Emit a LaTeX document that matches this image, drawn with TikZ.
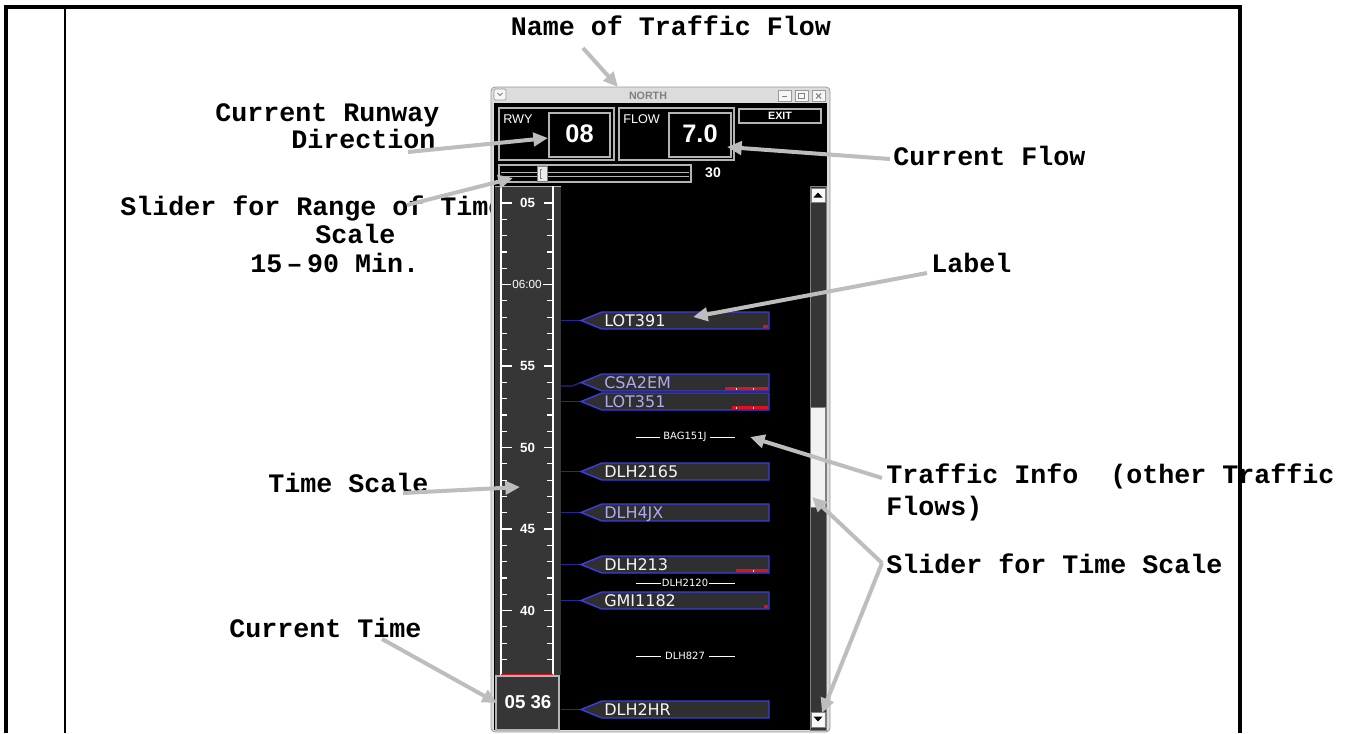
\documentclass[tikz,border=0pt]{standalone}
\usepackage{fontspec}
\usetikzlibrary{arrows.meta}
\newfontfamily\annofont{Liberation Mono}
\newfontfamily\uifont{Liberation Sans}
\newfontfamily\tagfont{DejaVu Sans}

\definecolor{callout}{HTML}{BDBDBD}
\definecolor{panel}{HTML}{363636}
\definecolor{tagfill}{HTML}{2F2F2F}
\definecolor{tagedge}{HTML}{3C3CD8}
\definecolor{taglink}{HTML}{26268E}
\definecolor{lavender}{HTML}{ABABEE}
\definecolor{alert}{HTML}{E0101E}
\definecolor{chrome}{HTML}{DCDCDC}
\definecolor{chromeedge}{HTML}{9A9A9A}
\definecolor{framegray}{HTML}{B4B4B4}

\tikzset{
  anno/.style={font=\annofont\bfseries\fontsize{20}{24}\selectfont, inner sep=0pt, text=black},
  callarrow/.style={draw=callout, line width=3pt, -{Triangle[length=11pt,width=10pt]}},
  uibox/.style={draw=framegray, line width=0.8pt},
  tagtext/.style={font=\tagfont\fontsize{12}{12}\selectfont, inner sep=0pt, anchor=base west},
  tagshape/.style={draw=tagedge, fill=tagfill, line width=1.1pt},
  tagline/.style={draw=taglink, line width=0.9pt},
  scalenum/.style={font=\uifont\bfseries\fontsize{10}{10}\selectfont, text=white, inner sep=0pt},
  tick/.style={draw=white, line width=0.9pt},
  infotext/.style={font=\tagfont\fontsize{7.5}{7.5}\selectfont, text=white, inner sep=0pt},
  infoline/.style={draw=white, line width=0.7pt},
  redbar/.style={draw=alert, line width=2.3pt},
}

% flight tag: name, centre y, text colour, callsign
\newcommand\flighttag[4]{%
  \draw[tagshape] (581,#2) -- (602,#2-8.5) -- (769,#2-8.5) -- (769,#2+8.5) -- (602,#2+8.5) -- cycle;
  \node[tagtext, text=#3] (#1) at (604,#2+6) {#4};
}

\begin{document}
\begin{tikzpicture}[x=0.75pt,y=-0.75pt]
\useasboundingbox[fill=white] (0,0) rectangle (1352,733);

% ---------- callout texts ----------
\node[anno,anchor=base] (tflow) at (671,35) {Name of Traffic Flow};
\node[anno,anchor=base west] (rwy1) at (215,121) {Current Runway};
\node[anno,anchor=base west] (rwy2) at (291,148) {Direction};
\node[anno,anchor=base west] (rng1) at (120,215) {Slider for Range of Time};
\node[anno,anchor=base west] (rng2) at (315,243) {Scale};
\node[anno,anchor=base west] (rng3) at (250,272) {15\,–\,90 Min.};
\node[anno,anchor=base west] (cflow) at (893,165) {Current Flow};
\node[anno,anchor=base west] (lbl) at (931,272) {Label};
\node[anno,anchor=base west] (tinfo1) at (886,483) {Traffic Info\ \ (other Traffic};
\node[anno,anchor=base west] (tinfo2) at (886,515) {Flows)};
\node[anno,anchor=base west] (tslide) at (886,573) {Slider for Time Scale};
\node[anno,anchor=base west] (tscale) at (268,492) {Time Scale};
\node[anno,anchor=base west] (ctime) at (229,637) {Current Time};

% ---------- window frame ----------
\draw[chromeedge, fill=chrome, rounded corners=3pt, line width=0.6pt] (491,87) rectangle (830,732);
\fill[black] (494,103) rectangle (827,730);
\node[font=\uifont\bfseries\fontsize{8}{8}\selectfont, text=gray, inner sep=0pt] (wtitle) at (648,95.5) {NORTH};
% title bar buttons
\draw[chromeedge, fill=white!93!gray, rounded corners=1pt, line width=0.5pt] (494,89) rectangle (506,100);
\draw[gray, line width=0.7pt] (497.5,93) -- (500,95.5) -- (502.5,93);
\draw[chromeedge, fill=white!93!gray, line width=0.5pt] (778,90) rectangle (791,101);
\draw[chromeedge, fill=white!93!gray, line width=0.5pt] (795,90) rectangle (808,101);
\draw[chromeedge, fill=white!93!gray, line width=0.5pt] (812,90) rectangle (825,101);
\draw[gray, line width=1.2pt] (782,96.5) -- (787,96.5);
\draw[gray, line width=0.6pt] (798.5,93) rectangle (804.5,98.5);
\draw[gray, line width=0.8pt] (816,93.5) -- (821,98.5) (816,98.5) -- (821,93.5);

% ---------- runway / flow / exit ----------
\draw[uibox] (499,108) rectangle (614,160);
\draw[uibox] (549,113) rectangle (610,157);
\node[font=\uifont\fontsize{9.5}{9.5}\selectfont, text=white, inner sep=0pt, anchor=base west] (rwylab) at (503,123) {RWY};
\node[font=\uifont\bfseries\fontsize{19}{19}\selectfont, text=white, inner sep=0pt] (rwyval) at (579.5,134) {08};
\draw[uibox] (619,108) rectangle (734,160);
\draw[uibox] (669,113) rectangle (731,157);
\node[font=\uifont\fontsize{9.5}{9.5}\selectfont, text=white, inner sep=0pt, anchor=base west] (flowlab) at (623,123) {FLOW};
\node[font=\uifont\bfseries\fontsize{19}{19}\selectfont, text=white, inner sep=0pt] (flowval) at (700,134) {7.0};
\draw[uibox] (739,109) rectangle (821,123);
\node[font=\uifont\bfseries\fontsize{8}{8}\selectfont, text=white, inner sep=0pt] (exitlab) at (780,116) {EXIT};

% ---------- range slider ----------
\draw[uibox] (499,165) rectangle (691,182);
\draw[framegray, line width=0.6pt] (501,172) -- (689,172) (501,176) -- (689,176);
\draw[gray, fill=white!85!gray, line width=0.5pt] (537,166) rectangle (547,181);
\draw[gray, line width=0.6pt] (542,169) -- (540,169) -- (540,178) -- (542,178);
\node[font=\uifont\bfseries\fontsize{10.5}{10.5}\selectfont, text=white, inner sep=0pt] (rangeval) at (713,173) {30};

% ---------- time scale ----------
\fill[panel] (495,186) rectangle (561,675);
\draw[framegray, line width=0.5pt] (495,186) -- (561,186);
\draw[tick] (501,186) -- (501,675);
\draw[tick] (553,186) -- (553,675);
\foreach \k in {0,...,28} {
  \draw[tick] (501,203+16.3*\k) -- (507,203+16.3*\k);
  \draw[tick] (547,203+16.3*\k) -- (553,203+16.3*\k);
}
\foreach \k/\t in {0/05,10/55,15/50,20/45,25/40} {
  \draw[tick] (501,203+16.3*\k) -- (512,203+16.3*\k);
  \draw[tick] (544,203+16.3*\k) -- (553,203+16.3*\k);
  \node[scalenum] (sc\t) at (527.5,203+16.3*\k) {\t};
}
\draw[tick] (501,284.5) -- (511,284.5);
\draw[tick] (543,284.5) -- (553,284.5);
\node[font=\uifont\fontsize{8.8}{8.8}\selectfont, text=white, inner sep=0pt] (sc0600) at (527,284.5) {06:00};
\draw[alert, line width=1.6pt] (501,675) -- (553,675);
% current time
\draw[framegray, fill=panel, line width=0.8pt] (496,676) rectangle (559,730);
\node[font=\uifont\bfseries\fontsize{14}{14}\selectfont, text=white, inner sep=0pt] (nowtime) at (528,702.5) {05 36};

% ---------- scroll bar ----------
\draw[gray, fill=panel, line width=0.5pt] (810,186) rectangle (826,730);
\draw[gray, fill=white!95!gray, line width=0.4pt] (811,188) rectangle (825,202);
\fill[black] (813.5,197.5) -- (822.5,197.5) -- (818,192.5) -- cycle;
\draw[gray, fill=white!90!gray, line width=0.4pt] (810.5,407) rectangle (825.5,507);
\draw[gray, fill=white!95!gray, line width=0.4pt] (811,712) rectangle (825,727);
\fill[black] (813.5,716.5) -- (822.5,716.5) -- (818,721.5) -- cycle;

% ---------- flight tags ----------
\draw[tagline] (561,320.5) -- (581,320.5);
\draw[tagline] (561,386) -- (572,386) -- (581,382.5);
\draw[tagline] (561,401.5) -- (581,401.5);
\draw[tagline] (561,471.5) -- (581,471.5);
\draw[tagline] (561,512.5) -- (581,512.5);
\draw[tagline] (561,564.5) -- (581,564.5);
\draw[tagline] (561,600.5) -- (581,600.5);
\draw[tagline] (561,709.5) -- (581,709.5);

\flighttag{lot391}{320.5}{white!92!gray}{LOT391}
\flighttag{csa2em}{382.5}{lavender}{CSA2EM}
\flighttag{lot351}{401.5}{lavender}{LOT351}
\flighttag{dlh2165}{471.5}{white!92!gray}{DLH2165}
\flighttag{dlh4jx}{512.5}{lavender}{DLH4JX}
\flighttag{dlh213}{564.5}{white!92!gray}{DLH213}
\flighttag{gmi1182}{600.5}{white!92!gray}{GMI1182}
\flighttag{dlh2hr}{709.5}{white!92!gray}{DLH2HR}

% delay bars inside the tags
\draw[redbar] (763,326.5) -- (768,326.5);
\draw[redbar] (725,388.5) -- (768,388.5);
\draw[white, line width=0.5pt] (736,387.5) -- (736,389.5) (753,387.5) -- (753,389.5);
\draw[redbar] (732,407.5) -- (768,407.5);
\draw[white, line width=0.5pt] (736,406.5) -- (736,408.5) (753,406.5) -- (753,408.5);
\draw[redbar] (736,570.5) -- (768,570.5);
\draw[white, line width=0.5pt] (753,569.5) -- (753,571.5);
\draw[redbar] (764,606.5) -- (768,606.5);

% ---------- other traffic flows ----------
\node[infotext] (bag151j) at (685,437) {BAG151J};
\draw[infoline] (636,437) -- (660,437) (710,437) -- (735,437);
\node[infotext] (dlh2120) at (685,583) {DLH2120};
\draw[infoline] (636,583) -- (661,583) (709,583) -- (735,583);
\node[infotext] (dlh827) at (685,656) {DLH827};
\draw[infoline] (636,656) -- (661,656) (709,656) -- (735,656);

% ---------- callout arrows ----------
\coordinate (aTflow) at (583,48);    \coordinate (pTitle) at (618,87);
\coordinate (aRwy) at (408,152);     \coordinate (pRwy) at (548,138);
\coordinate (aRng) at (407,205);     \coordinate (pRng) at (513,178);
\coordinate (aFlow) at (890,159);    \coordinate (pFlow) at (727,147);
\coordinate (aLbl) at (927,273);     \coordinate (pLbl) at (693,317);
\coordinate (aInfo) at (882,478);    \coordinate (pInfo) at (750,437);
\coordinate (aSlide) at (882,563);   \coordinate (pThumb) at (812,497);
\coordinate (pDown) at (822,713);
\coordinate (aScale) at (403,493);   \coordinate (pScale) at (520,487);
\coordinate (aTime) at (382,639);    \coordinate (pTime) at (497,703);

\draw[callarrow] (aTflow) -- (pTitle);
\draw[callarrow] (aRwy) -- (pRwy);
\draw[callarrow] (aRng) -- (pRng);
\draw[callarrow] (aFlow) -- (pFlow);
\draw[callarrow] (aLbl) -- (pLbl);
\draw[callarrow] (aInfo) -- (pInfo);
\draw[callarrow] (aSlide) -- (pThumb);
\draw[callarrow] (aSlide) -- (pDown);
\draw[callarrow] (aScale) -- (pScale);
\draw[callarrow] (aTime) -- (pTime);

% ---------- table rules ----------
\coordinate (tTL) at (4,7);  \coordinate (tTR) at (1242,7);
\coordinate (tBL) at (6,733); \coordinate (tBR) at (1240,733);
\draw[line width=2.3pt] (tTL) -- (tTR);
\draw[line width=2.6pt] (6,5.5) -- (tBL);
\draw[line width=3pt] (1240,5.5) -- (tBR);
\draw[line width=0.8pt] (65,7) -- (65,733);
\end{tikzpicture}
\end{document}
